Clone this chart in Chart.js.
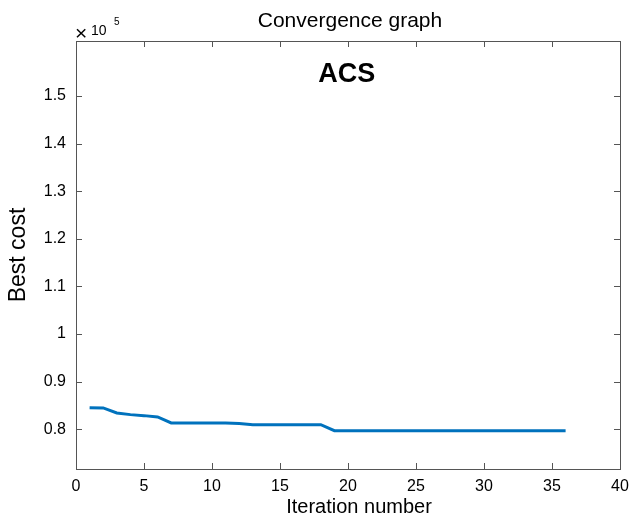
<!DOCTYPE html>
<html>
<head>
<meta charset="utf-8">
<script src="https://cdn.jsdelivr.net/npm/chart.js@4.4.1/dist/chart.umd.min.js"></script>
<style>
  html, body { margin: 0; padding: 0; background: #fff; }
  #wrap { width: 630px; height: 520px; }
</style>
</head>
<body>
<div id="wrap"><canvas id="chart" width="630" height="520"></canvas></div>
<script>
// data (cost in raw units, axis shows x10^5)
const iterations = [1, 2, 3, 4, 5, 6, 7, 8, 9, 10, 11, 12, 13, 14, 15, 16, 17, 18,
    19, 20, 21, 22, 23, 24, 25, 26, 27, 28, 29, 30, 31, 32, 33, 34, 35, 36];
const bestCost = [84550, 84480, 83430, 83080, 82870, 82590, 81330, 81330, 81330, 81330, 81330, 81200,
    80980, 80980, 80980, 80980, 80980, 80980,
    79720, 79720, 79720, 79720, 79720, 79720, 79720, 79720, 79720, 79720, 79720, 79720,
    79720, 79720, 79720, 79720, 79720, 79720];
const xTicks = [0, 5, 10, 15, 20, 25, 30, 35, 40];
const yTicks = [80000, 90000, 100000, 110000, 120000, 130000, 140000, 150000];
const yMin = 71660;
const yMax = 161560;

const FONT = "'Liberation Sans', Arial, Helvetica, sans-serif";
const AXIS = '#555';

// matlab style box, inward ticks and the loose text bits
const matlabBox = {
    id: 'matlabBox',
    afterDraw(chart) {
        const {ctx, chartArea: a, scales} = chart;
        const x = scales.x, y = scales.y;
        ctx.save();
        ctx.strokeStyle = AXIS;
        ctx.lineWidth = 1;
        ctx.strokeRect(a.left + 0.5, a.top + 0.5, a.right - a.left, a.bottom - a.top);

        ctx.beginPath();
        xTicks.forEach(v => {
            const px = Math.round(x.getPixelForValue(v)) + 0.5;
            ctx.moveTo(px, a.bottom); ctx.lineTo(px, a.bottom - 6);
            ctx.moveTo(px, a.top); ctx.lineTo(px, a.top + 6);
        });
        yTicks.forEach(v => {
            const py = Math.round(y.getPixelForValue(v)) + 0.5;
            ctx.moveTo(a.left, py); ctx.lineTo(a.left + 6, py);
            ctx.moveTo(a.right, py); ctx.lineTo(a.right - 6, py);
        });
        ctx.stroke();

        ctx.fillStyle = '#000';
        ctx.textBaseline = 'alphabetic';
        ctx.textAlign = 'center';
        ctx.font = '21px ' + FONT;
        ctx.fillText('Convergence graph', (a.left + a.right) / 2 + 2, 27);

        ctx.font = 'bold 27px ' + FONT;
        ctx.fillText('ACS', x.getPixelForValue(19.9), 82);

        ctx.font = '20px ' + FONT;
        ctx.fillText('Iteration number', (a.left + a.right) / 2 + 11, 513);

        // exponent label
        ctx.textAlign = 'left';
        ctx.font = '21px ' + FONT;
        ctx.fillText('\u00d7', 75, 40);
        ctx.font = '14px ' + FONT;
        ctx.fillText('10', 91, 35);
        ctx.font = '10px ' + FONT;
        ctx.fillText('5', 114, 25);
        ctx.restore();
    }
};

const ctx = document.getElementById('chart').getContext('2d');
new Chart(ctx, {
    type: 'line',
    data: {
        datasets: [{
            data: iterations.map((it, i) => ({x: it, y: bestCost[i]})),
            borderColor: '#0072BD',
            backgroundColor: '#0072BD',
            borderWidth: 3,
            pointRadius: 0,
            tension: 0,
            fill: false
        }]
    },
    options: {
        responsive: false,
        animation: false,
        layout: {padding: {left: 0, right: 10, top: 41, bottom: 0}},
        plugins: {
            legend: {display: false},
            tooltip: {enabled: false},
            title: {display: false}
        },
        scales: {
            x: {
                type: 'linear',
                min: 0,
                max: 40,
                afterBuildTicks: s => { s.ticks = xTicks.map(v => ({value: v})); },
                afterFit: s => { s.height = 51; s.paddingLeft = 0; s.paddingRight = 0; },
                grid: {display: false, drawTicks: false},
                border: {display: false},
                ticks: {
                    color: '#000',
                    padding: 8,
                    maxRotation: 0,
                    font: {family: FONT, size: 16}
                }
            },
            y: {
                type: 'linear',
                min: yMin,
                max: yMax,
                afterBuildTicks: s => { s.ticks = yTicks.map(v => ({value: v})); },
                afterFit: s => { s.width = 76; s.paddingTop = 0; s.paddingBottom = 0; },
                grid: {display: false, drawTicks: false},
                border: {display: false},
                ticks: {
                    color: '#000',
                    padding: 10,
                    font: {family: FONT, size: 16},
                    callback: v => String(Math.round(v / 10000) / 10)
                },
                title: {
                    display: true,
                    text: 'Best cost',
                    color: '#000',
                    padding: {top: 5, bottom: 0},
                    font: {family: FONT, size: 23}
                }
            }
        }
    },
    plugins: [matlabBox]
});
</script>
</body>
</html>
